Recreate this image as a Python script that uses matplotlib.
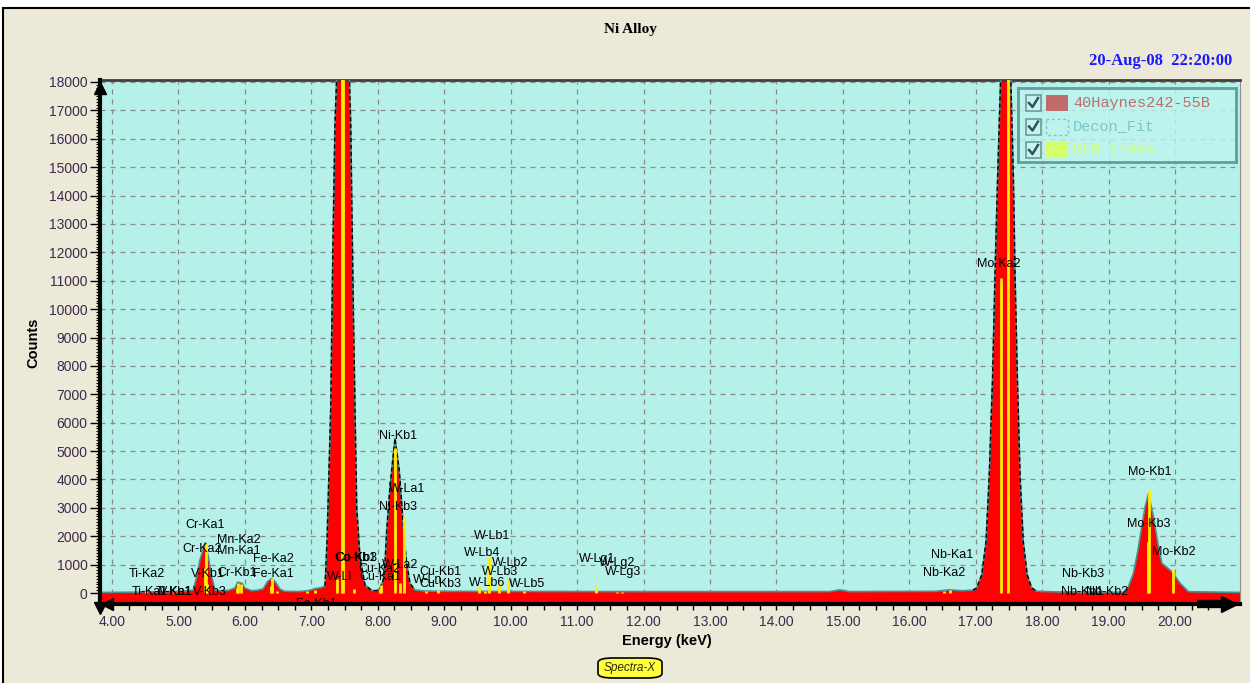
import numpy as np
import matplotlib.pyplot as plt
from matplotlib.patches import Rectangle, FancyBboxPatch

plt.rcParams['font.family'] = ['Liberation Sans', 'DejaVu Sans']

W, H = 1250, 683

# spectrum outline (keV, counts)
energy = [3.82, 4.40, 4.50, 4.60, 4.90, 5.00, 5.15, 5.224, 5.275, 5.324, 5.40, 5.449,
          5.50, 5.55, 5.62, 5.75, 5.851, 5.89, 5.927, 5.96, 6.00, 6.10, 6.20, 6.277,
          6.34, 6.404, 6.46, 6.529, 6.60, 6.80, 6.95, 7.05, 7.15, 7.206, 7.236, 7.292,
          7.326, 7.356, 7.382, 7.43, 7.477, 7.525, 7.572, 7.593, 7.612, 7.632, 7.657,
          7.683, 7.733, 7.808, 7.909, 7.98, 8.034, 8.083, 8.109, 8.135, 8.184, 8.259,
          8.323, 8.360, 8.395, 8.435, 8.485, 8.56, 8.70, 9.00, 10.0, 12.0, 14.8, 14.95,
          15.1, 16.4, 16.6, 16.8, 16.959, 17.015, 17.09, 17.155, 17.204, 17.255, 17.29,
          17.331, 17.376, 17.45, 17.527, 17.566, 17.592, 17.626, 17.667, 17.716, 17.776,
          17.842, 17.918, 18.2, 18.6, 19.0, 19.223, 19.299, 19.374, 19.434, 19.50, 19.55,
          19.60, 19.675, 19.75, 19.802, 19.952, 20.077, 20.202, 21.0]
counts = [20, 30, 60, 40, 50, 60, 80, 106, 574, 1162, 1772, 1279,
          574, 106, 80, 90, 176, 380, 363, 330, 176, 80, 100, 150,
          400, 517, 380, 130, 60, 50, 80, 150, 190, 250, 1800, 6500,
          12360, 16500, 18200, 26000, 30000, 26000, 18200, 16500, 13200, 10000, 6500,
          3000, 1230, 280, 90, 80, 165, 458, 1057, 2220, 3745, 5450,
          4330, 3160, 1980, 1045, 340, 105, 70, 60, 55, 50, 50, 110,
          50, 60, 110, 80, 100, 180, 634, 1800, 4160, 7680, 11200,
          14720, 18200, 30000, 18200, 14720, 11200, 7680, 4160, 1800, 634,
          180, 60, 40, 40, 30, 30, 222, 694, 1400, 2335, 3040,
          3490, 2690, 1630, 1046, 750, 342, 46, 20]

# KLM marker lines (keV, height)
line_energy = [4.511, 4.932, 4.952, 5.405, 5.415, 5.427, 5.888, 5.899, 5.947, 6.391,
               6.404, 6.49, 6.93, 7.058, 7.388, 7.461, 7.478, 7.649, 8.028, 8.048,
               8.265, 8.335, 8.398, 8.724, 8.905, 9.525, 9.612, 9.672, 9.818, 9.962,
               10.20, 11.286, 11.607, 11.675, 16.521, 16.615, 17.374, 17.479, 18.606,
               19.59, 19.608, 19.965]
line_height = [60, 40, 40, 880, 1760, 300, 180, 350, 300, 260,
               520, 60, 60, 90, 500, 20000, 40000, 150, 150, 280,
               5100, 350, 2700, 60, 100, 220, 60, 1280, 280, 480,
               60, 250, 50, 50, 70, 120, 11100, 22000, 20,
               1800, 3630, 810]

# line labels (name, centre keV, centre counts)
label_names = ['Cr-Ka1', 'Mn-Ka2', 'Cr-Ka2', 'Mn-Ka1', 'Fe-Ka2', 'V-Kb1', 'Cr-Kb1',
               'Fe-Ka1', 'Ti-Ka2', 'Ti-Ka1', 'Ti-Kb1', 'V-Ka1', 'V-Kb3', 'Ni-Kb1',
               'W-La1', 'Ni-Kb3', 'W-Lb1', 'W-Lb4', 'W-Lb2', 'W-Lb3', 'W-Lb6', 'W-Lb5',
               'Cu-Kb1', 'Cu-Kb3', 'W-Ln', 'Co-Kb1', 'Co-Kb3', 'Cu-Ka2', 'Cu-Ka1',
               'W-La2', 'W-Ll', 'Fe-Kb1', 'W-Lg1', 'W-Lg2', 'W-Lg3', 'Nb-Ka1', 'Nb-Ka2',
               'Nb-Kb3', 'Nb-Kb1', 'Nb-Kb2', 'Mo-Kb2', 'Mo-Ka2', 'Mo-Kb1', 'Mo-Kb3']
label_energy = [5.400, 5.901, 5.355, 5.911, 6.428, 5.445, 5.881,
                6.423, 4.522, 4.572, 4.933, 4.963, 5.475, 8.305,
                8.440, 8.297, 9.715, 9.564, 9.990, 9.840, 9.640, 10.242,
                8.937, 8.937, 8.756, 7.657, 7.672, 8.019, 8.046,
                8.335, 7.432, 7.070, 11.295, 11.601, 11.696, 16.638, 16.522,
                18.610, 18.595, 18.971, 19.980, 17.350, 19.623, 19.597]
label_counts = [2395, 1867, 1550, 1490, 1198, 669, 715,
                669, 669, 46, 46, 46, 46, 5530,
                3663, 3040, 2018, 1420, 1067, 750, 342, 317,
                750, 306, 458, 1222, 1222, 845, 553,
                986, 553, -390, 1187, 1046, 729, 1338, 694,
                659, 46, 46, 1455, 11589, 4273, 2430]

legend_names = ['40Haynes242-55B', 'Decon_Fit', 'KLM Lines']
legend_colors = ['#c06c6c', '#7cc4c8', '#d4ff6a']


def fx(px):
    return px / W


def fy(py):
    return 1 - py / H


fig = plt.figure(figsize=(W / 100, H / 100), dpi=100)
fig.patch.set_facecolor('white')
fig.patches.append(Rectangle((fx(3), -0.1), 1.1, fy(8) + 0.1, transform=fig.transFigure,
                             fc='#ece9d8', ec='black', lw=1.5, zorder=-10))

ax = fig.add_axes([fx(100), fy(604), 1140 / W, 524 / H])
ax.set_facecolor('#b5f1e9')
ax.set_xlim(3.819, 20.978)
ax.set_ylim(-387, 18070)

e = np.array(energy)
c = np.array(counts)
ax.fill_between(e, c, -387, color='#ff0000', lw=0, zorder=2)
ax.plot(e, c, color='#4f8e8c', lw=1.2, zorder=3)

# deconvolution fit outline over the big peaks
fit = np.where(((e > 7.2) & (e < 8.6)) | ((e > 16.9) & (e < 17.95)), c, np.nan)
ax.plot(e, fit, color='black', lw=1, ls=(0, (3, 2)), zorder=3)

ax.vlines(line_energy, 0, line_height, color='#ffee00', lw=2, zorder=4)

for name, x, y in zip(label_names, label_energy, label_counts):
    ax.text(x, y, name, ha='center', va='center', fontsize=9, color='black', zorder=6,
            clip_on=True)

# grid and ticks
ax.set_xticks(np.arange(4, 21))
ax.set_xticks(np.arange(4, 21, 0.25), minor=True)
ax.set_xticklabels(['%.2f' % v for v in range(4, 21)])
ax.set_yticks(np.arange(0, 18001, 1000))
ax.set_yticks(np.arange(0, 18001, 100), minor=True)
ax.set_axisbelow(True)
ax.grid(True, which='major', ls=(0, (4, 4)), color='#8a8a8a', lw=0.9)
ax.tick_params(axis='x', which='major', length=4, width=1, pad=4, labelsize=10,
               labelcolor='#3a2a50')
ax.tick_params(axis='x', which='minor', length=4, width=1)
ax.tick_params(axis='y', which='major', length=7, width=1, pad=2, labelsize=10,
               labelcolor='#3a2a50')
ax.tick_params(axis='y', which='minor', length=3, width=0.8)

for s in ['left', 'bottom']:
    ax.spines[s].set_linewidth(3)
    ax.spines[s].set_color('black')
    ax.spines[s].set_zorder(7)
ax.spines['top'].set_linewidth(2)
ax.spines['top'].set_color('#404040')
ax.spines['right'].set_color('#909090')

# axis arrows
kw = dict(transform=ax.transAxes, clip_on=False, color='black', zorder=8)
ax.plot([0], [0.985], marker='^', ms=9, **kw)
ax.plot([0], [-0.008], marker='v', ms=9, **kw)
ax.plot([0.006], [0], marker='<', ms=9, **kw)
ax.plot([0.962, 0.99], [0, 0], lw=6, solid_capstyle='butt', **kw)
ax.plot([0.99], [0], marker='>', ms=11, **kw)

# titles and axis labels
fig.text(fx(630), fy(30), 'Ni Alloy', ha='center', va='center', fontsize=11,
         fontweight='bold', family='Liberation Serif')
fig.text(fx(1232), fy(61), '20-Aug-08  22:20:00', ha='right', va='center', fontsize=12,
         fontweight='bold', family='Liberation Serif', color='#1a1aff')
fig.text(fx(667), fy(641), 'Energy (keV)', ha='center', va='center', fontsize=10.5,
         fontweight='bold')
fig.text(fx(33), fy(343), 'Counts', ha='center', va='center', fontsize=10.5,
         fontweight='bold', rotation=90)

# Spectra-X badge
fig.patches.append(FancyBboxPatch((fx(598), fy(678)), fx(64), 20 / H,
                                  boxstyle='round,pad=0,rounding_size=0.012',
                                  transform=fig.transFigure, fc='#ffff3c', ec='black',
                                  lw=1.2, mutation_aspect=H / W))
fig.text(fx(630), fy(668), 'Spectra-X', ha='center', va='center', fontsize=8.5,
         style='italic', color='#2a2a10')

# legend box
lg = fig.add_axes([fx(1018), fy(162), 218 / W, 74 / H])
lg.set_xlim(0, 218)
lg.set_ylim(74, 0)
lg.patch.set_facecolor('#bff5ef')
lg.patch.set_alpha(0.8)
lg.set_xticks([])
lg.set_yticks([])
for s in lg.spines.values():
    s.set_color('#5f9f9f')
    s.set_linewidth(2)
for i, (name, col) in enumerate(zip(legend_names, legend_colors)):
    y0 = 15 + i * 23.5
    lg.add_patch(Rectangle((8, y0 - 8), 15, 16, fc='#c6f4f0', ec='#6a9a9a', lw=1.2))
    lg.plot([11, 14.5, 20], [y0, y0 + 4, y0 - 5], color='#2f5555', lw=1.8)
    if i == 1:
        lg.add_patch(Rectangle((28, y0 - 8), 22, 16, fc='none', ec='#7cc4c8', lw=1,
                               ls=(0, (2, 2))))
    else:
        lg.add_patch(Rectangle((28, y0 - 8), 22, 16, fc=col, ec='none'))
    lg.text(55, y0, name, va='center', ha='left', fontsize=11, color=col,
            family='Liberation Mono')

fig.savefig('out.png', dpi=100)
